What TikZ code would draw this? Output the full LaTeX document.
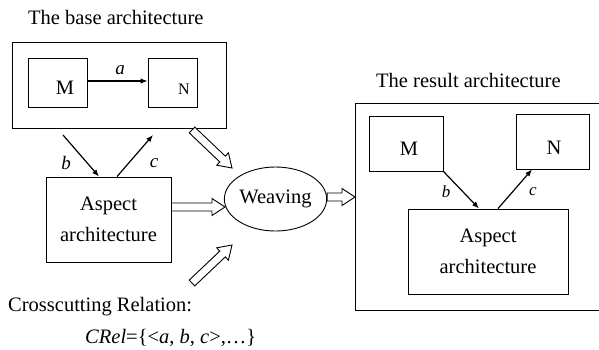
\documentclass[tikz,border=0pt]{standalone}
\usepackage{fontspec}
\setmainfont{Liberation Serif}
\usetikzlibrary{arrows.meta,calc,shapes.geometric}
\tikzset{
  box/.style={draw, line width=0.9pt, inner sep=0pt},
  txt/.style={inner sep=0pt, font=\fontsize{20.5}{31}\selectfont},
  lbl/.style={inner sep=0pt, font=\fontsize{19}{23}\selectfont\itshape},
  slbl/.style={inner sep=0pt, font=\fontsize{17}{21}\selectfont\itshape},
  conn/.style={line width=1.2pt, -{Latex[length=7pt,width=5.5pt]}},
  hollow/.style={draw, line width=0.9pt, fill=white, line join=miter},
}
\newcommand\harrow[2]{%
  \path[hollow] let \p1=(#1), \p2=(#2),
    \n1={atan2(\y2-\y1,\x2-\x1)}, \n2={veclen(\x2-\x1,\y2-\y1)} in
    [shift={(\p1)}, rotate=\n1]
    (0pt,-4pt) -- (\n2-13pt,-4pt) -- (\n2-13pt,-8.5pt) -- (\n2,0pt)
    -- (\n2-13pt,8.5pt) -- (\n2-13pt,4pt) -- (0pt,4pt) -- cycle;}
\begin{document}
\begin{tikzpicture}[x=1pt,y=-1pt]
\useasboundingbox (0,0) rectangle (599,349);

% ---------- base architecture ----------
\node[txt, anchor=base west] (tbase) at (28,24) {The base architecture};
\node[box, minimum width=214pt, minimum height=86pt] (base) at (119,85) {};
\node[box, minimum width=59pt, minimum height=49pt] (bM) at (57.5,82.5) {};
\node[box, minimum width=49pt, minimum height=49pt] (bN) at (172.5,82.5) {};
\node[txt] (bMt) at (65,88) {M};
\node[txt, font=\fontsize{16}{20}\selectfont] (bNt) at (184,89) {N};
\draw[conn] (bM.east |- 0,81) -- (bN.west |- 0,81);
\node[lbl] (la) at (120,70) {a};

% ---------- aspect (base) ----------
\node[box, txt, minimum width=125pt, minimum height=85pt, align=center] (bA) at (108.5,219.5) {Aspect\\architecture};
\coordinate (bbs) at (63,135);
\coordinate (bce) at (153,135);
\draw[conn] (bbs) -- (bA.north -| 99,0);
\draw[conn] (bA.north -| 117,0) -- (bce);
\node[lbl] (lb) at (66,163) {b};
\node[lbl] (lc) at (154,163) {c};

% ---------- weaving ----------
\node[draw, line width=0.9pt, ellipse, minimum width=89pt, minimum height=64pt, inner sep=0pt, txt] (weave) at (275.5,199) {Weaving};

% ---------- crosscutting ----------
\node[txt, anchor=base west] (cross) at (8,311) {Crosscutting Relation:};
\node[txt, anchor=base west] (crel) at (85,343) {\textit{CRel}=\{<\textit{a}, \textit{b}, \textit{c}>,…\}};

% ---------- result architecture ----------
\node[txt, anchor=base west] (tres) at (376,87) {The result architecture};
\draw[line width=0.9pt] (355,103) rectangle (605,310);
\coordinate (resW) at (355,197);
\node[box, minimum width=74pt, minimum height=55pt] (rM) at (406,143.5) {};
\node[box, minimum width=73pt, minimum height=55pt] (rN) at (552.5,141.5) {};
\node[txt] (rMt) at (409,149) {M};
\node[txt] (rNt) at (554,148) {N};
\node[box, txt, minimum width=160pt, minimum height=85pt, align=center] (rA) at (488,251.5) {Aspect\\architecture};
\draw[conn] (rM.south east) -- (rA.north -| 479,0);
\draw[conn] (rA.north -| 498,0) -- (rN.south -| 532,0);
\node[slbl] (rlb) at (446,192) {b};
\node[slbl] (rlc) at (533,192) {c};

% ---------- hollow arrows ----------
\coordinate (h1s) at (192,130); \coordinate (h1e) at (232,168);
\coordinate (h2s) at (bA.east |- 0,207); \coordinate (h2e) at (225,207);
\coordinate (h3s) at (192,283); \coordinate (h3e) at (232,245);
\coordinate (h4s) at (weave.east |- 0,197);
\harrow{h1s}{h1e}
\harrow{h2s}{h2e}
\harrow{h3s}{h3e}
\harrow{h4s}{resW}
\end{tikzpicture}
\end{document}
